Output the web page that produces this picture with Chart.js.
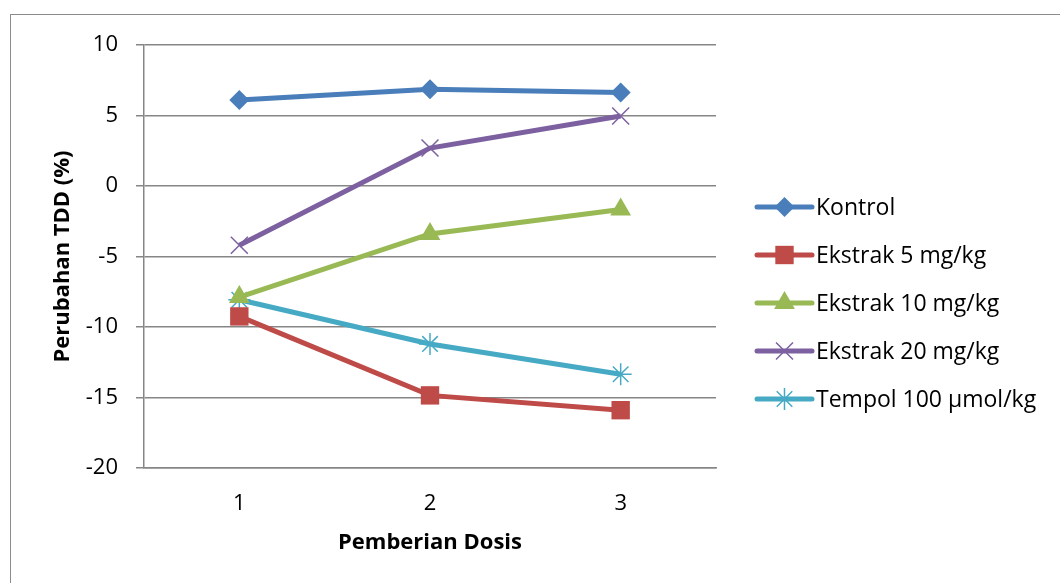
<!DOCTYPE html>
<html>
<head>
<meta charset="utf-8">
<script src="https://cdn.jsdelivr.net/npm/chart.js@4"></script>
<style>
  html, body { margin: 0; padding: 0; background: #fff; }
  #wrap { position: relative; width: 1060px; height: 583px; }
  #frame { position: absolute; left: 10px; top: 14px; width: 1060px; height: 600px; border: 1.5px solid #8c8c8c; box-sizing: border-box; }
</style>
</head>
<body>
<div id="wrap">
  <div id="frame"></div>
  <canvas id="chart" width="1060" height="583"></canvas>
</div>
<script>
// doses on the x axis
const doses = ['1', '2', '3'];

// change of TDD (%) per group
const kontrol = [6.1, 6.87, 6.63];
const ekstrak5 = [-9.25, -14.85, -15.9];
const ekstrak10 = [-7.88, -3.4, -1.67];
const ekstrak20 = [-4.2, 2.69, 4.97];
const tempol = [-8.07, -11.2, -13.35];

const seriesNames = ['Kontrol', 'Ekstrak 5 mg/kg', 'Ekstrak 10 mg/kg', 'Ekstrak 20 mg/kg', 'Tempol 100 \u00b5mol/kg'];
const yTicks = [10, 5, 0, -5, -10, -15, -20];

const FONT = '"Open Sans", "Liberation Sans", sans-serif';

const makeSet = (label, data, color, style, radius) => ({
    label: label,
    data: data,
    borderColor: color,
    backgroundColor: color,
    borderWidth: 5,
    pointStyle: style,
    pointRadius: radius,
    pointHoverRadius: radius,
    pointBorderWidth: style.startsWith('cross') || style === 'star' ? 1.5 : 0,
    pointBorderColor: color,
    tension: 0,
});

const datasets = [
    makeSet(seriesNames[0], kontrol, '#4a7ebb', 'rectRot', 10),
    makeSet(seriesNames[1], ekstrak5, '#be4b48', 'rect', 13),
    makeSet(seriesNames[2], ekstrak10, '#98b954', 'triangle', 12),
    makeSet(seriesNames[3], ekstrak20, '#7d60a0', 'crossRot', 12),
    makeSet(seriesNames[4], tempol, '#46aac5', 'star', 11),
];

// legend on the right: short line with the marker in the middle
const sideLegend = {
    id: 'sideLegend',
    afterDraw(chart) {
        const ctx = chart.ctx;
        const x0 = 757, x1 = 812, top = 207, gap = 48;
        chart.data.datasets.forEach((ds, i) => {
            const y = top + i * gap;
            ctx.save();
            ctx.strokeStyle = ds.borderColor;
            ctx.lineWidth = 5;
            ctx.lineCap = 'round';
            ctx.beginPath();
            ctx.moveTo(x0, y);
            ctx.lineTo(x1, y);
            ctx.stroke();
            ctx.fillStyle = ds.backgroundColor;
            ctx.lineWidth = ds.pointBorderWidth || 1;
            ctx.lineCap = 'butt';
            Chart.helpers.drawPoint(ctx, {
                pointStyle: ds.pointStyle,
                rotation: 0,
                radius: ds.pointRadius,
                borderWidth: ds.pointBorderWidth,
            }, (x0 + x1) / 2, y);
            ctx.restore();
            ctx.save();
            ctx.fillStyle = '#000';
            ctx.font = '23px ' + FONT;
            ctx.textBaseline = 'middle';
            ctx.fillText(ds.label, x1 + 4, y + 1);
            ctx.restore();
        });
    }
};

new Chart(document.getElementById('chart'), {
    type: 'line',
    data: { labels: doses, datasets: datasets },
    options: {
        responsive: false,
        animation: false,
        layout: { padding: { top: 45, right: 344, bottom: 23, left: 50 } },
        plugins: {
            legend: { display: false },
            tooltip: { enabled: false },
        },
        scales: {
            x: {
                offset: true,
                grid: { display: false, drawTicks: false },
                border: { display: true, color: '#868686', width: 1.5 },
                ticks: { color: '#000', font: { family: FONT, size: 22 }, padding: 23 },
                title: {
                    display: true, text: 'Pemberian Dosis', color: '#000',
                    font: { family: FONT, size: 22, weight: 'bold' }, padding: { top: 4, bottom: 4 },
                },
                afterFit(scale) { scale.height = 92; },
            },
            y: {
                min: -20, max: 10,
                afterBuildTicks(scale) { scale.ticks = yTicks.map(v => ({ value: v })); },
                grid: { color: '#868686', lineWidth: 1.5, tickLength: 8 },
                border: { display: true, color: '#868686', width: 1.5 },
                ticks: { color: '#000', font: { family: FONT, size: 22 }, padding: 18 },
                title: {
                    display: true, text: 'Perubahan TDD (%)', color: '#000',
                    font: { family: FONT, size: 22, weight: 'bold' }, padding: { top: 0, bottom: 4 },
                },
                afterFit(scale) { scale.width = 94; },
            },
        },
    },
    plugins: [sideLegend],
});
</script>
</body>
</html>
